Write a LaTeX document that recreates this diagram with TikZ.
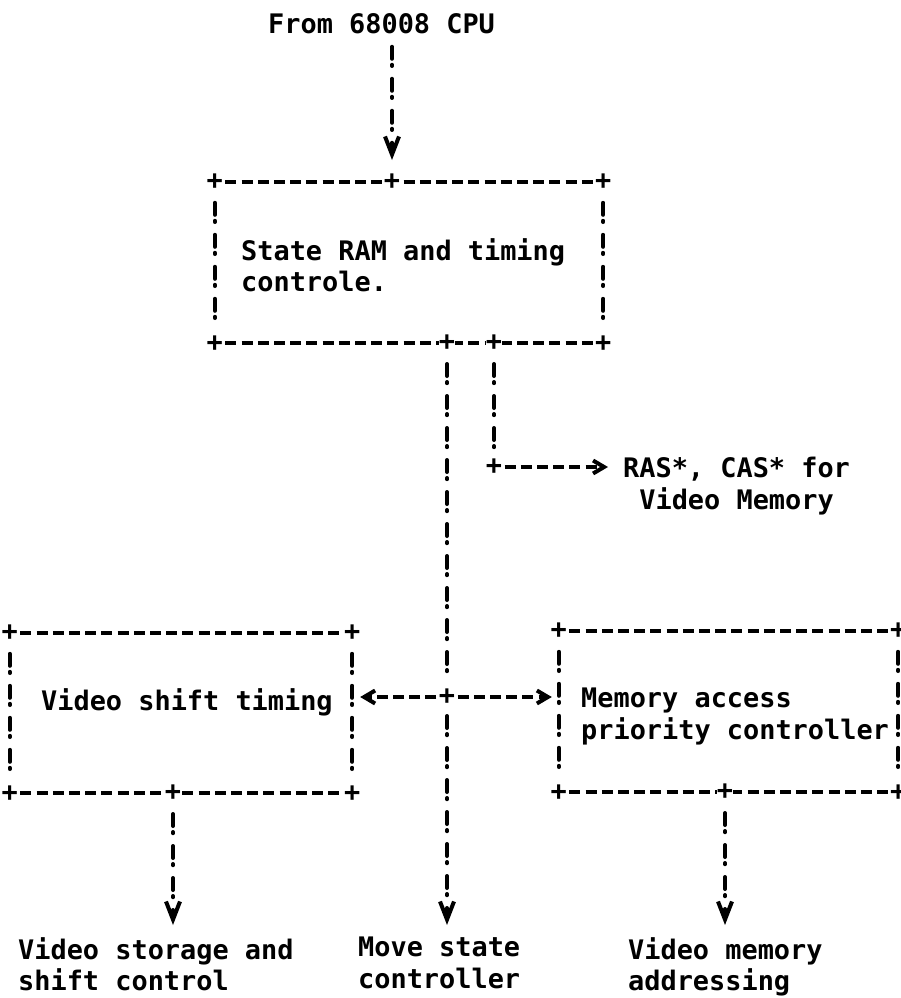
\documentclass[tikz,border=0pt]{standalone}
\usepackage{fontspec}
\setmonofont{DejaVu Sans Mono}
\usetikzlibrary{arrows.meta}

\begin{document}
\begin{tikzpicture}[x=1pt,y=-1pt,
  txt/.style={font=\ttfamily\bfseries\fontsize{26.9}{31.5}\selectfont,inner sep=0pt,anchor=north west,align=left},
  blk/.style={draw=none,inner sep=0pt},
  plus/.style={font=\ttfamily\bfseries\fontsize{26.9}{31.5}\selectfont,fill=white,inner sep=0pt,minimum width=14pt,minimum height=32pt},
  hline/.style={line width=4pt,dash pattern=on 11pt off 5.2pt,dash phase=5.6pt},
  bang/.style={line width=4pt,line cap=round,dash pattern=on 12pt off 6pt on 1.2pt off 12.8pt,dash phase=20pt,shorten <=9pt},
  tipv/.style={-{Straight Barb[length=18pt,width=14pt,line cap=butt]}},
  tiph/.style={-{Straight Barb[length=11pt,width=13pt]}}]
\path[use as bounding box,fill=white] (0,0) rectangle (900,998);
% boxes
\node[blk,minimum width=388pt,minimum height=161pt] (st) at (409,262.5) {};
\node[blk,minimum width=342pt,minimum height=160pt] (vs) at (181,713) {};
\node[blk,minimum width=339pt,minimum height=161pt] (ma) at (728.5,711.5) {};
% texts
\node[txt] (cpu) at (268,13) {From 68008 CPU};
\node[txt] (stt) at (241,238) {State RAM and timing\\controle.};
\node[txt,align=center] (ras) at (623,457) {RAS*, CAS* for\\Video Memory};
\node[txt] (vst) at (41,688) {Video shift timing};
\node[txt] (mat) at (581,688) {Memory access\\priority controller};
\node[txt] (vsout) at (18,937) {Video storage and\\shift control};
\node[txt] (mvout) at (358,937) {Move state\\controller};
\node[txt] (maout) at (628,937) {Video memory\\addressing};
% junctions
\coordinate (stin) at (392,182);
\coordinate (stj1) at (447,343);
\coordinate (stj2) at (494,343);
\coordinate (rasc) at (494,467);
\coordinate (rasin) at (608,467);
\coordinate (mj) at (447,697);
\coordinate (vsj) at (173,793);
\coordinate (maj) at (725,792);
% box borders
\foreach \b in {st,vs,ma}{
  \draw[hline] (\b.north west) -- (\b.north east);
  \draw[hline] (\b.south west) -- (\b.south east);
  \draw[bang,shorten >=14pt] (\b.north west) -- (\b.south west);
  \draw[bang,shorten >=14pt] (\b.north east) -- (\b.south east);
}
% connectors
\draw[bang,tipv,shorten <=1pt,shorten >=22pt] (cpu.south -| stin) -- (stin);
\draw[bang,tipv,shorten >=12pt] (stj1) -- (mvout.north -| stj1);
\draw[bang,shorten >=14pt] (stj2) -- (rasc);
\draw[hline,tiph] (rasc) -- (rasin);
\draw[hline,tiph,shorten >=8pt] (mj) -- (vs.east |- mj);
\draw[hline,tiph,shorten >=7pt] (mj) -- (ma.west |- mj);
\draw[bang,tipv,shorten >=12pt] (vsj) -- (vsj |- vsout.north);
\draw[bang,tipv,shorten >=12pt] (maj) -- (maj |- maout.north);
% plus marks
\foreach \b in {st,vs,ma}
  \foreach \a in {north west,north east,south west,south east}
    \node[plus] at (\b.\a) {+};
\foreach \p in {stin,stj1,stj2,rasc,mj,vsj,maj}
  \node[plus] at (\p) {+};
\end{tikzpicture}
\end{document}
